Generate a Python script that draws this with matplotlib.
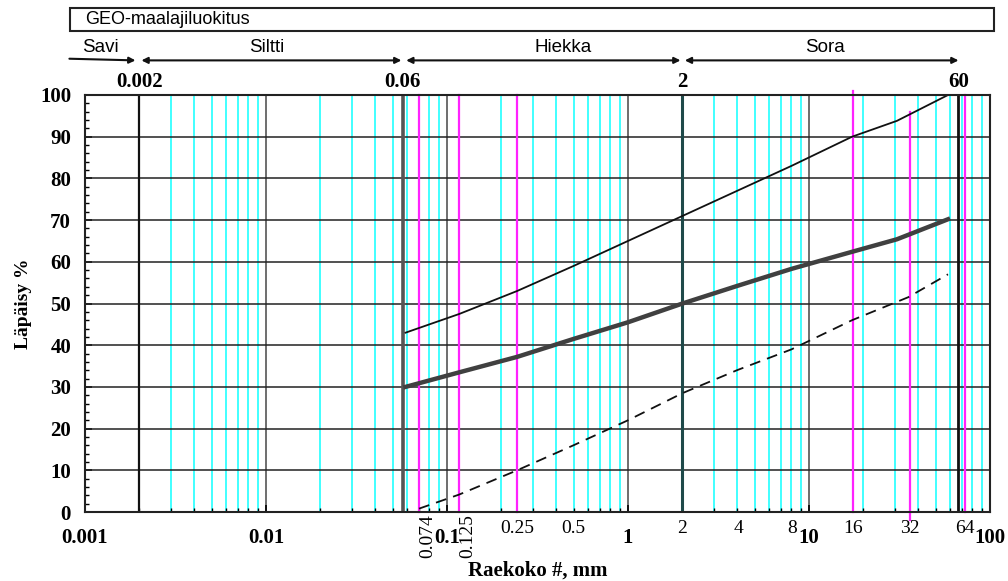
import numpy as np
import matplotlib.pyplot as plt
from matplotlib.patches import Rectangle

# =========================
# Data
# =========================

# envelope curves: grain size (mm) and passing (%)
upper_x = [0.059, 0.117, 0.244, 0.5, 1, 2, 4, 8, 17.3, 30.6, 58.6]
upper_y = [43, 47.5, 53, 59, 65, 71, 77, 83, 90, 93.8, 100]

mid_x = [0.059, 0.117, 0.244, 0.5, 1, 2, 4, 8, 17.3, 30.6, 58.6]
mid_y = [30, 33.5, 37.2, 41.5, 45.5, 50, 54.2, 58.3, 62.4, 65.4, 70.2]

lower_x = [0.070, 0.117, 0.244, 0.5, 1, 2, 4, 8, 17.3, 35.3, 58.6]
lower_y = [0.8, 4.2, 10, 16, 22, 28.5, 34, 39, 46, 51.5, 57]

# sieve lines (magenta) as drawn in the picture
sieve_pos = [0.0702, 0.117, 0.244, 17.4, 36.0, 72.4]
sieve_ymin = [0, 0, 0, 0, -2, 0]
sieve_ymax = [100, 100, 100, 101, 96, 100]

rot_labels = ["0.074", "0.125"]
rot_pos = [0.0702, 0.117]

sieve_labels = ["0.25", "0.5", "2", "4", "8", "16", "32", "64"]
sieve_label_pos = [0.244, 0.5, 2, 4.1, 8.1, 17.4, 36.0, 72.4]

# soil class boundaries
bound_pos = [0.002, 0.057, 2, 66.9]
bound_labels = ["0.002", "0.06", "2", "60"]

classes = ["Savi", "Siltti", "Hiekka", "Sora"]
class_from = [0.00082, 0.00205, 0.0595, 2.06]
class_to = [0.0019, 0.056, 1.95, 67]
class_label_x = [0.00121, 0.0101, 0.438, 12.2]

major_x = [0.001, 0.01, 0.1, 1, 10, 100]
major_labels = ["0.001", "0.01", "0.1", "1", "10", "100"]

SERIF = "Liberation Serif"
SANS = "Liberation Sans"

fig = plt.figure(figsize=(10.08, 5.81), dpi=100)
ax = fig.add_axes([85 / 1008, 1 - 512 / 581, 905 / 1008, 417 / 581])
ax.set_xscale("log")
ax.set_xlim(0.001, 100)
ax.set_ylim(0, 100)

# cyan minor lines in every decade
for dec in [0.001, 0.01, 0.1, 1, 10]:
    for m in range(2, 10):
        ax.axvline(dec * m, color="#33ffff", lw=1.3, zorder=1)

# major decade lines
for x in major_x[1:-1]:
    ax.axvline(x, color="#555555", lw=1.2, zorder=1.5)

# horizontal grid
for y in range(10, 100, 10):
    ax.axhline(y, color="#222222", lw=1.1, zorder=1.6)

# magenta sieve lines
for x, y0, y1 in zip(sieve_pos, sieve_ymin, sieve_ymax):
    ax.plot([x, x], [y0, y1], color="#ff22ff", lw=1.6, zorder=2, clip_on=False)

# class boundary lines
bound_colors = ["#111111", "#555555", "#1f4a4a", "#111111"]
bound_widths = [1.6, 2.6, 2.2, 2.0]
for x, c, w in zip(bound_pos, bound_colors, bound_widths):
    ax.axvline(x, color=c, lw=w, zorder=2.5)

# curves
ax.plot(upper_x, upper_y, color="#111111", lw=1.3, zorder=4)
ax.plot(mid_x, mid_y, color="#404040", lw=3.2, zorder=4)
ax.plot(lower_x, lower_y, color="#111111", lw=1.3, ls=(0, (6, 4)), zorder=4)

# axes style
for s in ax.spines.values():
    s.set_linewidth(1.5)
    s.set_color("#222222")
    s.set_zorder(5)

ax.set_xticks(major_x)
ax.set_xticks([d * m for d in [0.001, 0.01, 0.1, 1, 10] for m in range(2, 10)], minor=True)
ax.set_xticklabels([])
ax.set_xticklabels([], minor=True)
ax.tick_params(axis="x", which="major", direction="in", length=5, width=1.2, top=False)
ax.tick_params(axis="x", which="minor", direction="in", length=3, width=1.0, top=False)

ax.set_yticks(range(0, 101, 10))
ax.set_yticks(range(0, 101, 2), minor=True)
ax.tick_params(axis="y", which="major", direction="in", length=5, width=1.2, right=False, pad=10)
ax.tick_params(axis="y", which="minor", direction="in", length=3, width=1.0, right=False)
ax.set_yticklabels([str(v) for v in range(0, 101, 10)], fontfamily=SERIF,
                   fontweight="bold", fontsize=15)

ax.set_ylabel("Läpäisy %", fontfamily=SERIF, fontweight="bold", fontsize=14, labelpad=6)

trans = ax.get_xaxis_transform()

# bold decade labels
for x, lab in zip(major_x, major_labels):
    ax.text(x, -0.063, lab, transform=trans, ha="center", va="center",
            fontfamily=SERIF, fontweight="bold", fontsize=15)

# sieve labels
for x, lab in zip(sieve_label_pos, sieve_labels):
    ax.text(x, -0.04, lab, transform=trans, ha="center", va="center",
            fontfamily=SERIF, fontsize=14)
for x, lab in zip(rot_pos, rot_labels):
    ax.text(x, -0.005, lab, transform=trans, ha="left", va="top", rotation=90,
            fontfamily=SERIF, fontsize=14)

ax.text(0.5, -0.14, "Raekoko #, mm", transform=ax.transAxes, ha="center", va="center",
        fontfamily=SERIF, fontweight="bold", fontsize=15)

# boundary values above the plot
for x, lab in zip(bound_pos, bound_labels):
    ax.text(x, 1.031, lab, transform=trans, ha="center", va="center",
            fontfamily=SERIF, fontweight="bold", fontsize=15)

# class arrows
arrow_y = 1.083
for i, (x0, x1) in enumerate(zip(class_from, class_to)):
    style = "-|>" if i == 0 else "<|-|>"
    y0 = arrow_y + 0.004 if i == 0 else arrow_y
    ax.annotate("", xy=(x1, arrow_y), xytext=(x0, y0), xycoords=trans,
                textcoords=trans, annotation_clip=False,
                arrowprops=dict(arrowstyle=style, color="#111111", lw=1.5,
                                mutation_scale=9, shrinkA=0, shrinkB=0))
for x, lab in zip(class_label_x, classes):
    ax.text(x, 1.113, lab, transform=trans, ha="center", va="center",
            fontfamily=SANS, fontsize=13.5)

# header box
fig.add_artist(Rectangle((70 / 1008, 1 - 31 / 581), 924 / 1008, 23 / 581,
                         transform=fig.transFigure, fill=False,
                         edgecolor="#222222", lw=1.5))
fig.text(85 / 1008, 1 - 20 / 581, "GEO-maalajiluokitus", ha="left", va="center",
         fontfamily=SANS, fontsize=13)

fig.savefig("out.png", dpi=100)
